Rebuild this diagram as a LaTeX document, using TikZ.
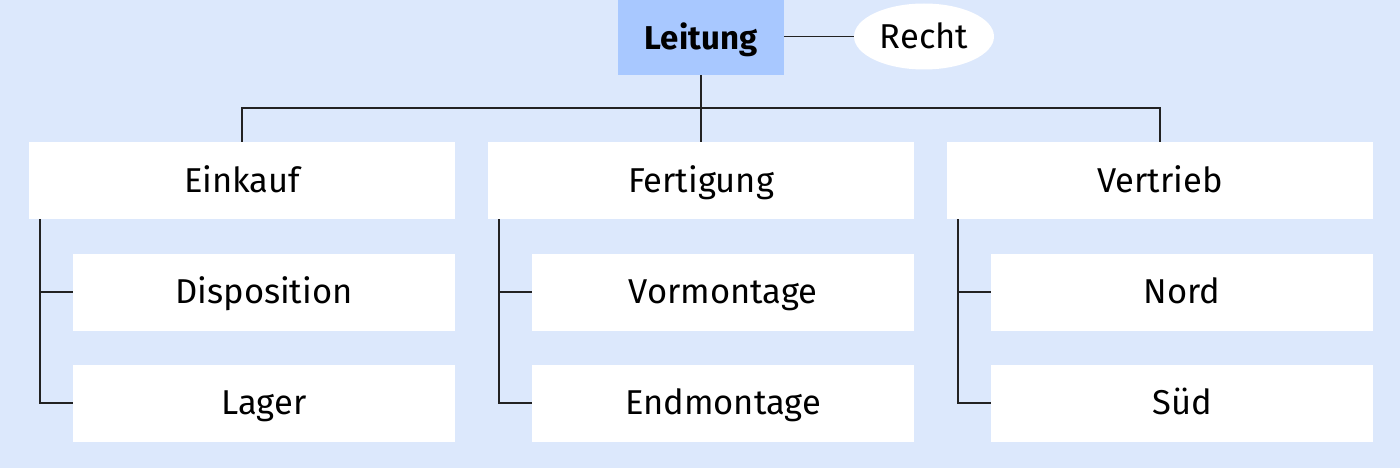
\documentclass[tikz,border=0pt]{standalone}
\usepackage{fontspec}
\setmainfont{Fira Sans}
\usetikzlibrary{shapes.geometric}
\definecolor{bgblue}{RGB}{220,232,252}
\definecolor{headblue}{RGB}{168,200,255}
\definecolor{linegray}{RGB}{34,34,34}
\begin{document}
\begin{tikzpicture}[x=1pt,y=-1pt,
    unit/.style ={rectangle, fill=white, inner sep=0pt, minimum width=426pt, minimum height=77pt,
      font=\fontsize{34.5}{40}\selectfont, text height=23.5pt, text depth=0pt},
    subunit/.style ={unit, minimum width=382pt},
    head/.style ={unit, fill=headblue, minimum width=166pt, minimum height=75pt, font=\fontsize{33}{40}\selectfont\bfseries},
    staff/.style ={ellipse, fill=white, inner sep=0pt, minimum width=140pt, minimum height=66pt,
      font=\fontsize{34.5}{40}\selectfont, text height=23.5pt, text depth=0pt},
    link/.style ={draw=linegray, line width=1.4pt}]
   \fill[bgblue] (0,0) rectangle (1400,468);
   \useasboundingbox (0,0) rectangle (1400,468);
   \node[head] (leitung)  at (701,37.5)  {Leitung};
   \node[staff] (recht)  at (924,36.5)  {Recht};
   \node[unit] (einkauf)  at (242,180.5)  {Einkauf};
   \node[unit] (fertigung)  at (701,180.5)  {Fertigung};
   \node[unit] (vertrieb)  at (1160,180.5)  {Vertrieb};
   \node[subunit] (dispo)  at (264,292)  {Disposition};
   \node[subunit] (lager)  at (264,403)  {Lager};
   \node[subunit] (vormont)  at (723,292)  {Vormontage};
   \node[subunit] (endmont)  at (723,403)  {Endmontage};
   \node[subunit] (nord)  at (1182,292)  {Nord};
   \node[subunit] (sued)  at (1182,403)  {Süd};
   \coordinate (bus) at (701,108);
   \draw[link] (recht.west -| leitung.east) -- (recht.west);
   \draw[link] (leitung) -- (fertigung);
   \draw[link] (einkauf.north) |- (bus) -| (vertrieb.north);
   \draw[link] ([xshift=11pt]einkauf.south west) |- (dispo.west);
   \draw[link] ([xshift=11pt]einkauf.south west) |- (lager.west);
   \draw[link] ([xshift=11pt]fertigung.south west) |- (vormont.west);
   \draw[link] ([xshift=11pt]fertigung.south west) |- (endmont.west);
   \draw[link] ([xshift=11pt]vertrieb.south west) |- (nord.west);
   \draw[link] ([xshift=11pt]vertrieb.south west) |- (sued.west);
 \end{tikzpicture}
\end{document}
